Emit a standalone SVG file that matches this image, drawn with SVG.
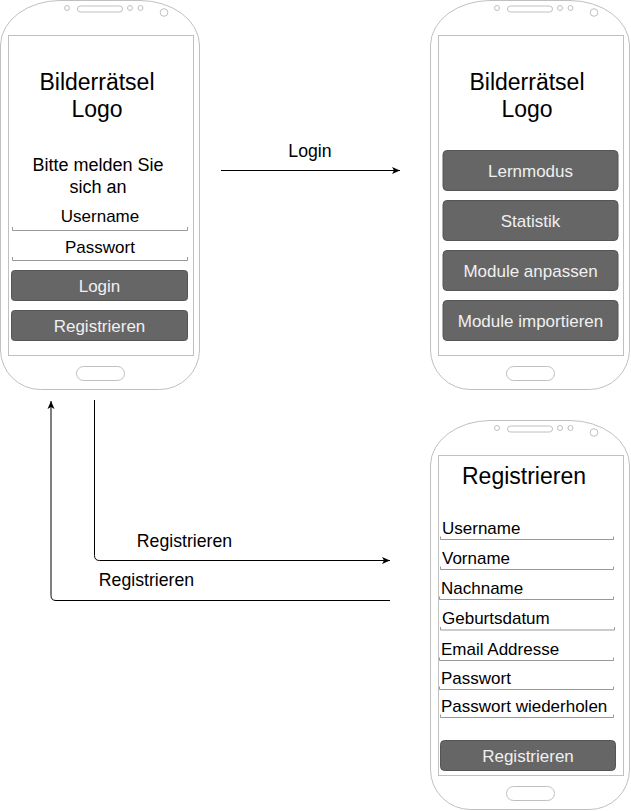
<svg xmlns="http://www.w3.org/2000/svg" xmlns:xlink="http://www.w3.org/1999/xlink" width="631" height="811" viewBox="0 0 631 811">
<style>
text{font-family:"Liberation Sans",Arial,sans-serif;fill:#000}
.title{font-size:23px;text-anchor:middle}
.lbl{font-size:17px;text-anchor:middle}
.clbl{font-size:17.7px;text-anchor:middle}
.fld{font-size:17px}
.btn{fill:#666666;stroke:#555555;stroke-width:1}
.btnt{font-size:17px;text-anchor:middle;fill:#f0f0f0}
.frame{fill:#fff;stroke:#c0c0c0;stroke-width:1}
.scr{fill:#fff;stroke:#c0c0c0;stroke-width:1}
.ul{fill:none;stroke:#999999;stroke-width:1}
.conn{fill:none;stroke:#000;stroke-width:1}
</style>
<defs>
<marker id="arr" markerWidth="10" markerHeight="10" refX="8" refY="4" orient="auto" markerUnits="userSpaceOnUse">
<path d="M0,0.5 L8,4 L0,7.5 L2,4 Z" fill="#000"/>
</marker>
<g id="phone">
<path class="frame" d="M0.5,45 A60,45 0 0 1 60,0.5 L140,0.5 A60,45 0 0 1 199.5,45 L199.5,350 A40,40 0 0 1 159.5,389.5 L40.5,389.5 A40,40 0 0 1 0.5,350 Z"/>
<rect class="scr" x="8.5" y="35.5" width="185" height="320"/>
<circle cx="67" cy="8" r="2.5" fill="none" stroke="#c0c0c0"/>
<rect x="77.5" y="6" width="45" height="6" rx="3" fill="none" stroke="#c0c0c0"/>
<circle cx="130" cy="8" r="2.5" fill="none" stroke="#c0c0c0"/>
<circle cx="140.5" cy="8" r="2.5" fill="none" stroke="#c0c0c0"/>
<circle cx="164" cy="12.5" r="3.8" fill="none" stroke="#c0c0c0"/>
<rect x="76.5" y="366.5" width="48" height="14" rx="7" fill="none" stroke="#c0c0c0"/>
</g>
</defs>
<rect width="631" height="811" fill="#fff"/>

<g id="phone-login">
<use xlink:href="#phone" href="#phone"/>
<text class="title" x="97" y="90">Bilderrätsel</text>
<text class="title" x="97" y="117">Logo</text>
<text class="lbl" style="font-size:18px" x="98" y="171">Bitte melden Sie</text>
<text class="lbl" style="font-size:18px" x="98" y="193">sich an</text>
<text class="lbl" x="100" y="222">Username</text>
<path class="ul" d="M12.5,227 L12.5,230.5 L187.5,230.5 L187.5,227"/>
<text class="lbl" x="100" y="252.5">Passwort</text>
<path class="ul" d="M12.5,257 L12.5,260.5 L187.5,260.5 L187.5,257"/>
<rect class="btn" x="11.5" y="270.5" width="176" height="30" rx="3"/>
<text class="btnt" x="99.5" y="292">Login</text>
<rect class="btn" x="11.5" y="310.5" width="176" height="30" rx="3"/>
<text class="btnt" x="99.5" y="332">Registrieren</text>
</g>

<g id="phone-menu" transform="translate(430,0)">
<use xlink:href="#phone" href="#phone"/>
<text class="title" x="97" y="90">Bilderrätsel</text>
<text class="title" x="97" y="117">Logo</text>
<rect class="btn" x="13" y="150.5" width="175" height="40" rx="4"/>
<text class="btnt" x="100.5" y="177">Lernmodus</text>
<rect class="btn" x="13" y="200.5" width="175" height="40" rx="4"/>
<text class="btnt" x="100.5" y="227">Statistik</text>
<rect class="btn" x="13" y="250.5" width="175" height="40" rx="4"/>
<text class="btnt" x="100.5" y="277">Module anpassen</text>
<rect class="btn" x="13" y="300.5" width="175" height="40" rx="4"/>
<text class="btnt" x="100.5" y="327">Module importieren</text>
</g>

<g id="phone-register" transform="translate(430,420)">
<use xlink:href="#phone" href="#phone"/>
<text class="title" x="94" y="64">Registrieren</text>
<text class="fld" x="12" y="113.5">Username</text>
<path class="ul" d="M10.5,116.5 L10.5,119.5 L183.5,119.5 L183.5,116.5"/>
<text class="fld" x="12" y="143.5">Vorname</text>
<path class="ul" d="M10.5,146.5 L10.5,149.5 L183.5,149.5 L183.5,146.5"/>
<text class="fld" x="11" y="173.5">Nachname</text>
<path class="ul" d="M9.5,176.5 L9.5,179.5 L183.5,179.5 L183.5,176.5"/>
<text class="fld" x="12" y="204">Geburtsdatum</text>
<path class="ul" d="M10.5,207 L10.5,210 L184.5,210 L184.5,207"/>
<text class="fld" x="11" y="234.5">Email Addresse</text>
<path class="ul" d="M9.5,237.5 L9.5,240.5 L183.5,240.5 L183.5,237.5"/>
<text class="fld" x="11" y="263.5">Passwort</text>
<path class="ul" d="M9.5,266.5 L9.5,269.5 L183.5,269.5 L183.5,266.5"/>
<text class="fld" x="11" y="291.5">Passwort wiederholen</text>
<path class="ul" d="M10.5,294.5 L10.5,297.5 L183.5,297.5 L183.5,294.5"/>
<rect class="btn" x="10.5" y="320.5" width="175" height="30" rx="4"/>
<text class="btnt" x="98" y="342">Registrieren</text>
</g>

<g id="connectors">
<path class="conn" d="M221,170.5 L400,170.5" marker-end="url(#arr)"/>
<text class="clbl" x="310" y="157">Login</text>
<path class="conn" d="M94.5,400 L94.5,555.5 Q94.5,560.5 99.5,560.5 L390,560.5" marker-end="url(#arr)"/>
<text class="clbl" x="184.5" y="547">Registrieren</text>
<path class="conn" d="M390,600.5 L56,600.5 Q51,600.5 51,595.5 L51,401" marker-end="url(#arr)"/>
<text class="clbl" x="146.5" y="586">Registrieren</text>
</g>
</svg>
